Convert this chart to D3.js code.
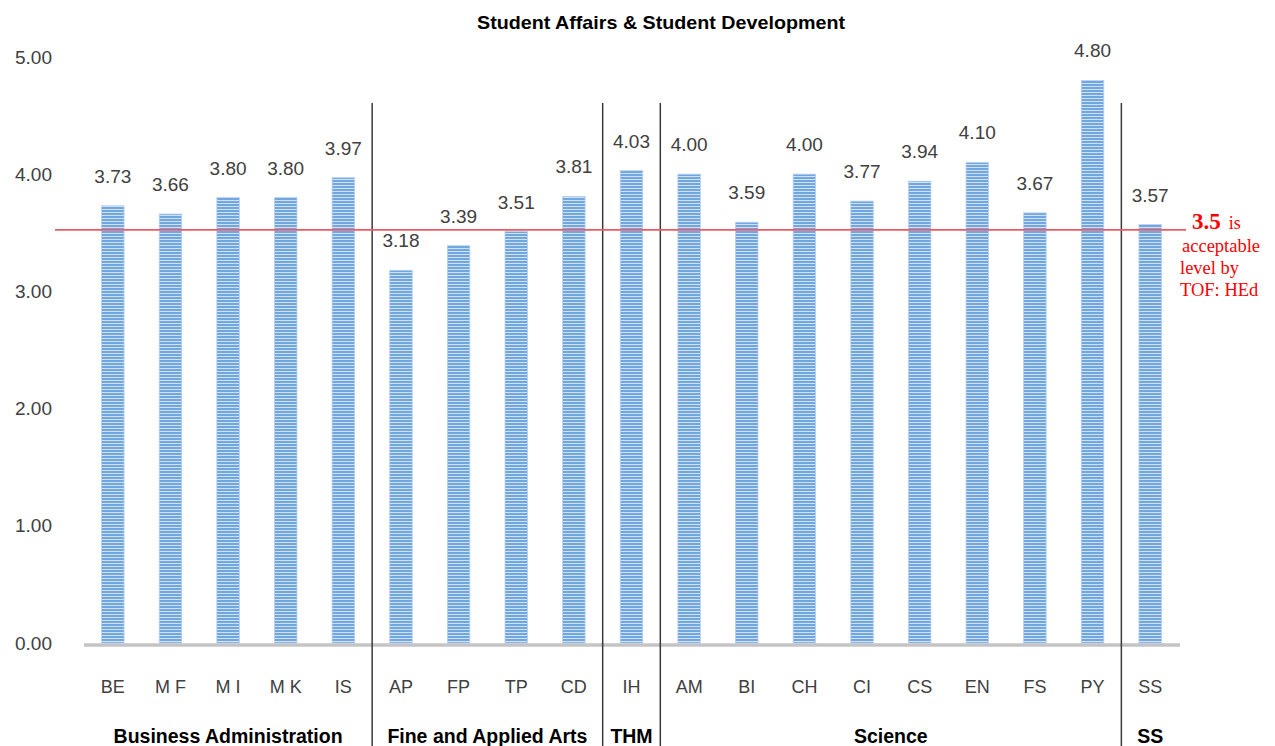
<!DOCTYPE html>
<html>
<head>
<meta charset="utf-8">
<script src="https://cdn.jsdelivr.net/npm/d3@7"></script>
<style>
  body { margin: 0; background: #fff; }
  svg { display: block; font-family: "Liberation Sans", Arial, sans-serif; }
</style>
</head>
<body>
<svg id="chart" width="1275" height="746"></svg>
<script>
// data
var codes = ["BE","M F","M I","M K","IS","AP","FP","TP","CD","IH","AM","BI","CH","CI","CS","EN","FS","PY","SS"];
var scores = [3.73,3.66,3.80,3.80,3.97,3.18,3.39,3.51,3.81,4.03,4.00,3.59,4.00,3.77,3.94,4.10,3.67,4.80,3.57];
var groups = ["Business Administration","Fine and Applied Arts","THM","Science","SS"];
var groupSizes = [5,4,1,8,1];
var yTicks = [0,1,2,3,4,5];
var benchmark = 3.5;
var noteLines = ["acceptable","level by","TOF: HEd"];

var svg = d3.select("#chart");

var x = d3.scaleBand().domain(d3.range(codes.length)).range([84, 1179]).paddingInner(0.61).paddingOuter(0.305);
var step = x.step();
var y = d3.scaleLinear().domain([0,5]).range([643, 57]);

// striped fill like the original bars
var defs = svg.append("defs");
var pat = defs.append("pattern").attr("id","stripes").attr("patternUnits","userSpaceOnUse")
    .attr("width", 10).attr("height", 3);
pat.append("rect").attr("width",10).attr("height",3).attr("fill","#cfe1f5");
pat.append("rect").attr("width",10).attr("height",2).attr("fill","#71a6de");

// title
svg.append("text").attr("x", 661).attr("y", 29).attr("text-anchor","middle")
    .attr("font-size", 19).attr("font-weight","bold").attr("fill","#000")
    .attr("textLength", 368).attr("lengthAdjust","spacingAndGlyphs")
    .text("Student Affairs & Student Development");

// y axis labels
var yAxis = d3.axisLeft(y).tickValues(yTicks).tickFormat(d3.format(".2f")).tickSize(0).tickPadding(0);
var yg = svg.append("g").attr("transform","translate(52,0)").call(yAxis);
yg.select(".domain").remove();
yg.selectAll("text").attr("font-size", 19).attr("fill","#404040")
    .attr("font-family","Liberation Sans, Arial, sans-serif");

// bars
svg.append("g").selectAll("rect").data(scores).join("rect")
    .attr("x", function(d,i){ return x(i); })
    .attr("y", function(d){ return y(d); })
    .attr("width", x.bandwidth())
    .attr("height", function(d){ return y(0) - y(d); })
    .attr("fill","url(#stripes)")
    .attr("stroke","#b3cff0").attr("stroke-width",0.8);

// value labels
svg.append("g").selectAll("text").data(scores).join("text")
    .attr("x", function(d,i){ return x(i) + x.bandwidth()/2; })
    .attr("y", function(d){ return y(d) - 23; })
    .attr("text-anchor","middle").attr("font-size", 19).attr("fill","#404040")
    .text(function(d){ return d.toFixed(2); });

// baseline
svg.append("line").attr("x1", 84).attr("x2", 1180).attr("y1", y(0)+2).attr("y2", y(0)+2)
    .attr("stroke","#c4c4c4").attr("stroke-width",3.5);

// category labels
var xAxis = d3.axisBottom(x).tickFormat(function(i){ return codes[i]; }).tickSize(0).tickPadding(0);
var xg = svg.append("g").attr("transform","translate(0,693)").call(xAxis);
xg.select(".domain").remove();
xg.selectAll("text").attr("font-size", 18).attr("fill","#404040").attr("dy", 0)
    .attr("font-family","Liberation Sans, Arial, sans-serif");

// group separators + group names
var starts = [];
var acc = 0;
groupSizes.forEach(function(n){ starts.push(acc); acc += n; });

var x0 = x.range()[0];
var sepIdx = starts.slice(1);
svg.append("g").selectAll("line").data(sepIdx).join("line")
    .attr("x1", function(i){ return x0 + i*step; })
    .attr("x2", function(i){ return x0 + i*step; })
    .attr("y1", 103).attr("y2", 746)
    .attr("stroke","#3a3a3a").attr("stroke-width",1.5);

svg.append("g").selectAll("text").data(groups).join("text")
    .attr("x", function(g,k){ return x0 + (starts[k] + groupSizes[k]/2)*step; })
    .attr("y", 743)
    .attr("text-anchor","middle").attr("font-size", 19.5).attr("font-weight","bold").attr("fill","#000")
    .text(function(g){ return g; });

// benchmark line
svg.append("line").attr("x1", 55).attr("x2", 1186).attr("y1", y(benchmark)-3).attr("y2", y(benchmark)-3)
    .attr("stroke","#ee5a64").attr("stroke-width",1.8);

// note
var note = svg.append("g").attr("font-family","Liberation Serif, Times New Roman, serif").attr("fill","#ff0000");
var first = note.append("text").attr("x", 1192).attr("y", 229);
first.append("tspan").attr("font-size", 23).attr("font-weight","bold").text(benchmark);
first.append("tspan").attr("font-size", 18).attr("dx", 8).text("is");
note.selectAll("text.l").data(noteLines).join("text").attr("class","l")
    .attr("x", function(d,i){ return i == 0 ? 1182 : 1180; })
    .attr("y", function(d,i){ return 252 + i*22; })
    .attr("font-size", 18.5)
    .text(function(d){ return d; });
</script>
</body>
</html>
